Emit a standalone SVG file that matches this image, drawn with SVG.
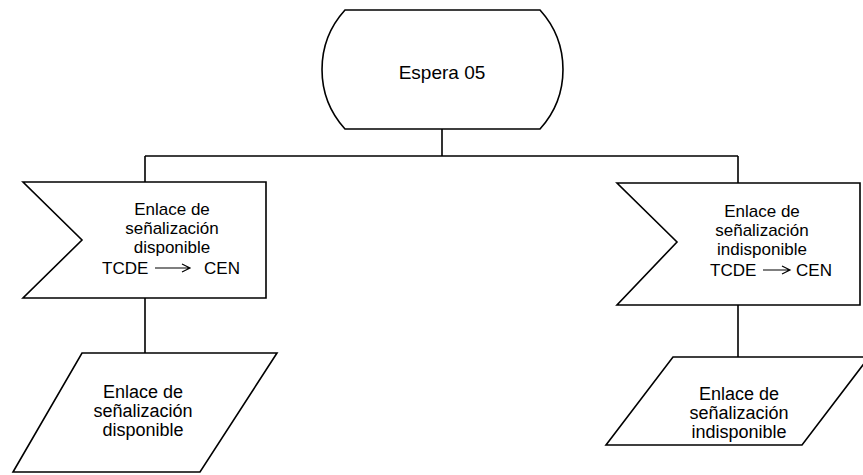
<svg xmlns="http://www.w3.org/2000/svg" width="863" height="475" viewBox="0 0 863 475">
<style>
.s{fill:#fff;stroke:#000;stroke-width:1.6;stroke-linejoin:miter}
.c{fill:none;stroke:#000;stroke-width:1.6}
.t{font-family:"Liberation Sans",Arial,sans-serif;font-size:17px;fill:#000;text-anchor:middle}
.t2{font-size:18px}
.a{fill:none;stroke:#000;stroke-width:1.2}
</style>
<rect width="863" height="475" fill="#fff"/>
<g id="connectors">
<path class="c" d="M442,129 V156 M145,156 H738 M145,156 V182 M738,156 V183 M145,298 V353 M738,305 V357"/>
</g>
<g id="espera05">
<path class="s" d="M345,10 H540 A88.5,88.5 0 0 1 540,129 H345 A88.5,88.5 0 0 1 345,10 Z"/>
<text class="t" x="442" y="79" style="font-size:19px">Espera 05</text>
</g>
<g id="senal-disponible">
<polygon class="s" points="23,182 266,182 266,298 23,298 82,240"/>
<text class="t" x="172" y="215">Enlace de</text>
<text class="t" x="172" y="234">señalización</text>
<text class="t" x="172" y="253">disponible</text>
<text class="t" x="102" y="274" style="text-anchor:start">TCDE</text>
<path class="a" d="M155,268 H190 M182,264 L190,268 L182,272"/>
<text class="t" x="240" y="274" style="text-anchor:end">CEN</text>
</g>
<g id="senal-indisponible">
<polygon class="s" points="617,183 860,183 860,305 617,305 677,242"/>
<text class="t" x="762" y="217">Enlace de</text>
<text class="t" x="762" y="236">señalización</text>
<text class="t" x="762" y="255">indisponible</text>
<text class="t" x="710" y="276" style="text-anchor:start">TCDE</text>
<path class="a" d="M763,270 H790 M782,266 L790,270 L782,274"/>
<text class="t" x="832" y="276" style="text-anchor:end">CEN</text>
</g>
<g id="salida-disponible">
<polygon class="s" points="82,353 277,353 200,472 13,472"/>
<text class="t t2" x="143" y="398">Enlace de</text>
<text class="t t2" x="143" y="417">señalización</text>
<text class="t t2" x="143" y="436">disponible</text>
</g>
<g id="salida-indisponible">
<polygon class="s" points="673,357 869,357 802,445 606,445"/>
<text class="t t2" x="739" y="400">Enlace de</text>
<text class="t t2" x="739" y="419">señalización</text>
<text class="t t2" x="739" y="438">indisponible</text>
</g>
</svg>
